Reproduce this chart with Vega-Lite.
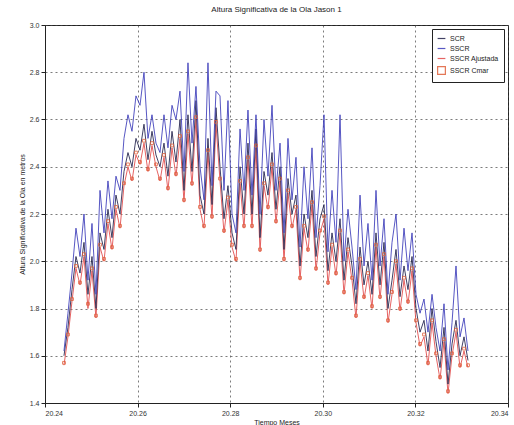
{
  "$schema": "https://vega.github.io/schema/vega-lite/v6.json",
  "autosize": "none",
  "width": 463,
  "height": 378,
  "padding": {"left": 45, "top": 25, "right": 6, "bottom": 22},
  "background": "white",
  "title": {"text": "Altura Significativa de la Ola Jason 1", "fontSize": 8, "font": "Liberation Sans", "fontWeight": "normal", "color": "#222", "offset": 7, "anchor": "middle"},
  "config": {
    "font": "Liberation Sans",
    "view": {"stroke": "#222", "strokeWidth": 1},
    "axis": {"labelFontSize": 7, "titleFontSize": 7, "labelColor": "#333", "titleColor": "#222", "titleFontWeight": "normal", "domainColor": "#222", "tickColor": "#222", "gridColor": "#444", "gridDash": [2, 3], "gridOpacity": 0.7, "tickSize": 4}
  },
  "data": {"values": [
    {"t":20.24410,"SCR":1.60,"SSCR":1.62,"SSCR Ajustada":1.56,"SSCR Cmar":1.57},
    {"t":20.24496,"SCR":1.72,"SSCR":1.78,"SSCR Ajustada":1.68,"SSCR Cmar":1.69},
    {"t":20.24583,"SCR":1.88,"SSCR":1.95,"SSCR Ajustada":1.83,"SSCR Cmar":1.84},
    {"t":20.24669,"SCR":2.02,"SSCR":2.14,"SSCR Ajustada":1.97,"SSCR Cmar":1.98},
    {"t":20.24756,"SCR":1.95,"SSCR":2.02,"SSCR Ajustada":1.90,"SSCR Cmar":1.91},
    {"t":20.24842,"SCR":2.08,"SSCR":2.20,"SSCR Ajustada":2.02,"SSCR Cmar":2.03},
    {"t":20.24928,"SCR":1.86,"SSCR":1.92,"SSCR Ajustada":1.80,"SSCR Cmar":1.82},
    {"t":20.25015,"SCR":2.02,"SSCR":2.16,"SSCR Ajustada":1.96,"SSCR Cmar":1.97},
    {"t":20.25101,"SCR":1.80,"SSCR":1.86,"SSCR Ajustada":1.76,"SSCR Cmar":1.77},
    {"t":20.25188,"SCR":2.12,"SSCR":2.30,"SSCR Ajustada":2.06,"SSCR Cmar":2.07},
    {"t":20.25274,"SCR":2.05,"SSCR":2.12,"SSCR Ajustada":2.00,"SSCR Cmar":2.01},
    {"t":20.25360,"SCR":2.22,"SSCR":2.34,"SSCR Ajustada":2.16,"SSCR Cmar":2.17},
    {"t":20.25447,"SCR":2.10,"SSCR":2.18,"SSCR Ajustada":2.05,"SSCR Cmar":2.06},
    {"t":20.25533,"SCR":2.28,"SSCR":2.36,"SSCR Ajustada":2.22,"SSCR Cmar":2.23},
    {"t":20.25620,"SCR":2.20,"SSCR":2.30,"SSCR Ajustada":2.14,"SSCR Cmar":2.15},
    {"t":20.25706,"SCR":2.38,"SSCR":2.52,"SSCR Ajustada":2.32,"SSCR Cmar":2.33},
    {"t":20.25792,"SCR":2.46,"SSCR":2.62,"SSCR Ajustada":2.40,"SSCR Cmar":2.41},
    {"t":20.25879,"SCR":2.40,"SSCR":2.55,"SSCR Ajustada":2.34,"SSCR Cmar":2.35},
    {"t":20.25965,"SCR":2.52,"SSCR":2.70,"SSCR Ajustada":2.45,"SSCR Cmar":2.46},
    {"t":20.26052,"SCR":2.47,"SSCR":2.66,"SSCR Ajustada":2.41,"SSCR Cmar":2.42},
    {"t":20.26138,"SCR":2.58,"SSCR":2.80,"SSCR Ajustada":2.50,"SSCR Cmar":2.51},
    {"t":20.26224,"SCR":2.43,"SSCR":2.52,"SSCR Ajustada":2.38,"SSCR Cmar":2.39},
    {"t":20.26311,"SCR":2.55,"SSCR":2.62,"SSCR Ajustada":2.49,"SSCR Cmar":2.50},
    {"t":20.26397,"SCR":2.45,"SSCR":2.50,"SSCR Ajustada":2.40,"SSCR Cmar":2.41},
    {"t":20.26484,"SCR":2.40,"SSCR":2.46,"SSCR Ajustada":2.34,"SSCR Cmar":2.35},
    {"t":20.26570,"SCR":2.50,"SSCR":2.62,"SSCR Ajustada":2.44,"SSCR Cmar":2.45},
    {"t":20.26656,"SCR":2.36,"SSCR":2.48,"SSCR Ajustada":2.30,"SSCR Cmar":2.31},
    {"t":20.26743,"SCR":2.55,"SSCR":2.66,"SSCR Ajustada":2.48,"SSCR Cmar":2.49},
    {"t":20.26829,"SCR":2.42,"SSCR":2.60,"SSCR Ajustada":2.36,"SSCR Cmar":2.37},
    {"t":20.26916,"SCR":2.60,"SSCR":2.72,"SSCR Ajustada":2.52,"SSCR Cmar":2.53},
    {"t":20.27002,"SCR":2.30,"SSCR":2.38,"SSCR Ajustada":2.25,"SSCR Cmar":2.26},
    {"t":20.27088,"SCR":2.62,"SSCR":2.84,"SSCR Ajustada":2.54,"SSCR Cmar":2.55},
    {"t":20.27175,"SCR":2.38,"SSCR":2.50,"SSCR Ajustada":2.32,"SSCR Cmar":2.33},
    {"t":20.27261,"SCR":2.68,"SSCR":2.74,"SSCR Ajustada":2.60,"SSCR Cmar":2.61},
    {"t":20.27348,"SCR":2.28,"SSCR":2.40,"SSCR Ajustada":2.22,"SSCR Cmar":2.23},
    {"t":20.27434,"SCR":2.20,"SSCR":2.26,"SSCR Ajustada":2.14,"SSCR Cmar":2.15},
    {"t":20.27520,"SCR":2.52,"SSCR":2.84,"SSCR Ajustada":2.46,"SSCR Cmar":2.47},
    {"t":20.27607,"SCR":2.24,"SSCR":2.32,"SSCR Ajustada":2.18,"SSCR Cmar":2.19},
    {"t":20.27693,"SCR":2.65,"SSCR":2.72,"SSCR Ajustada":2.58,"SSCR Cmar":2.59},
    {"t":20.27780,"SCR":2.40,"SSCR":2.70,"SSCR Ajustada":2.34,"SSCR Cmar":2.35},
    {"t":20.27866,"SCR":2.18,"SSCR":2.30,"SSCR Ajustada":2.12,"SSCR Cmar":2.13},
    {"t":20.27952,"SCR":2.32,"SSCR":2.68,"SSCR Ajustada":2.26,"SSCR Cmar":2.27},
    {"t":20.28039,"SCR":2.12,"SSCR":2.20,"SSCR Ajustada":2.06,"SSCR Cmar":2.07},
    {"t":20.28125,"SCR":2.05,"SSCR":2.12,"SSCR Ajustada":2.00,"SSCR Cmar":2.01},
    {"t":20.28212,"SCR":2.40,"SSCR":2.56,"SSCR Ajustada":2.33,"SSCR Cmar":2.34},
    {"t":20.28298,"SCR":2.20,"SSCR":2.30,"SSCR Ajustada":2.14,"SSCR Cmar":2.15},
    {"t":20.28384,"SCR":2.50,"SSCR":2.64,"SSCR Ajustada":2.43,"SSCR Cmar":2.44},
    {"t":20.28471,"SCR":2.20,"SSCR":2.28,"SSCR Ajustada":2.14,"SSCR Cmar":2.15},
    {"t":20.28557,"SCR":2.56,"SSCR":2.62,"SSCR Ajustada":2.48,"SSCR Cmar":2.49},
    {"t":20.28644,"SCR":2.10,"SSCR":2.20,"SSCR Ajustada":2.04,"SSCR Cmar":2.05},
    {"t":20.28730,"SCR":2.38,"SSCR":2.60,"SSCR Ajustada":2.32,"SSCR Cmar":2.33},
    {"t":20.28816,"SCR":2.28,"SSCR":2.36,"SSCR Ajustada":2.22,"SSCR Cmar":2.23},
    {"t":20.28903,"SCR":2.46,"SSCR":2.66,"SSCR Ajustada":2.40,"SSCR Cmar":2.41},
    {"t":20.28989,"SCR":2.22,"SSCR":2.30,"SSCR Ajustada":2.16,"SSCR Cmar":2.17},
    {"t":20.29076,"SCR":2.40,"SSCR":2.50,"SSCR Ajustada":2.34,"SSCR Cmar":2.35},
    {"t":20.29162,"SCR":2.05,"SSCR":2.12,"SSCR Ajustada":2.00,"SSCR Cmar":2.01},
    {"t":20.29248,"SCR":2.35,"SSCR":2.52,"SSCR Ajustada":2.29,"SSCR Cmar":2.30},
    {"t":20.29335,"SCR":2.20,"SSCR":2.26,"SSCR Ajustada":2.14,"SSCR Cmar":2.15},
    {"t":20.29421,"SCR":2.28,"SSCR":2.44,"SSCR Ajustada":2.22,"SSCR Cmar":2.23},
    {"t":20.29508,"SCR":1.98,"SSCR":2.06,"SSCR Ajustada":1.92,"SSCR Cmar":1.93},
    {"t":20.29594,"SCR":2.20,"SSCR":2.40,"SSCR Ajustada":2.14,"SSCR Cmar":2.15},
    {"t":20.29680,"SCR":2.10,"SSCR":2.18,"SSCR Ajustada":2.04,"SSCR Cmar":2.05},
    {"t":20.29767,"SCR":2.30,"SSCR":2.48,"SSCR Ajustada":2.24,"SSCR Cmar":2.25},
    {"t":20.29853,"SCR":2.02,"SSCR":2.10,"SSCR Ajustada":1.96,"SSCR Cmar":1.97},
    {"t":20.29940,"SCR":2.18,"SSCR":2.32,"SSCR Ajustada":2.12,"SSCR Cmar":2.13},
    {"t":20.30026,"SCR":2.24,"SSCR":2.62,"SSCR Ajustada":2.18,"SSCR Cmar":2.19},
    {"t":20.30112,"SCR":1.96,"SSCR":2.04,"SSCR Ajustada":1.90,"SSCR Cmar":1.91},
    {"t":20.30199,"SCR":2.12,"SSCR":2.30,"SSCR Ajustada":2.06,"SSCR Cmar":2.07},
    {"t":20.30285,"SCR":2.00,"SSCR":2.08,"SSCR Ajustada":1.94,"SSCR Cmar":1.95},
    {"t":20.30372,"SCR":2.18,"SSCR":2.62,"SSCR Ajustada":2.12,"SSCR Cmar":2.13},
    {"t":20.30458,"SCR":1.92,"SSCR":2.00,"SSCR Ajustada":1.86,"SSCR Cmar":1.87},
    {"t":20.30544,"SCR":2.10,"SSCR":2.22,"SSCR Ajustada":2.04,"SSCR Cmar":2.05},
    {"t":20.30631,"SCR":1.98,"SSCR":2.06,"SSCR Ajustada":1.92,"SSCR Cmar":1.93},
    {"t":20.30717,"SCR":1.82,"SSCR":1.88,"SSCR Ajustada":1.76,"SSCR Cmar":1.77},
    {"t":20.30804,"SCR":2.06,"SSCR":2.28,"SSCR Ajustada":2.00,"SSCR Cmar":2.01},
    {"t":20.30890,"SCR":1.90,"SSCR":1.98,"SSCR Ajustada":1.84,"SSCR Cmar":1.85},
    {"t":20.30976,"SCR":2.00,"SSCR":2.16,"SSCR Ajustada":1.94,"SSCR Cmar":1.95},
    {"t":20.31063,"SCR":1.86,"SSCR":1.92,"SSCR Ajustada":1.80,"SSCR Cmar":1.81},
    {"t":20.31149,"SCR":2.12,"SSCR":2.30,"SSCR Ajustada":2.06,"SSCR Cmar":2.07},
    {"t":20.31236,"SCR":1.90,"SSCR":1.98,"SSCR Ajustada":1.84,"SSCR Cmar":1.85},
    {"t":20.31322,"SCR":2.08,"SSCR":2.18,"SSCR Ajustada":2.02,"SSCR Cmar":2.03},
    {"t":20.31408,"SCR":1.80,"SSCR":1.86,"SSCR Ajustada":1.74,"SSCR Cmar":1.75},
    {"t":20.31495,"SCR":1.92,"SSCR":2.08,"SSCR Ajustada":1.86,"SSCR Cmar":1.87},
    {"t":20.31581,"SCR":2.05,"SSCR":2.20,"SSCR Ajustada":1.99,"SSCR Cmar":2.00},
    {"t":20.31668,"SCR":1.85,"SSCR":1.92,"SSCR Ajustada":1.79,"SSCR Cmar":1.80},
    {"t":20.31754,"SCR":1.98,"SSCR":2.14,"SSCR Ajustada":1.92,"SSCR Cmar":1.93},
    {"t":20.31840,"SCR":1.88,"SSCR":1.96,"SSCR Ajustada":1.82,"SSCR Cmar":1.83},
    {"t":20.31927,"SCR":2.02,"SSCR":2.12,"SSCR Ajustada":1.96,"SSCR Cmar":1.97},
    {"t":20.32013,"SCR":1.80,"SSCR":1.86,"SSCR Ajustada":1.74,"SSCR Cmar":1.75},
    {"t":20.32100,"SCR":1.70,"SSCR":1.78,"SSCR Ajustada":1.64,"SSCR Cmar":1.65},
    {"t":20.32186,"SCR":1.75,"SSCR":1.84,"SSCR Ajustada":1.68,"SSCR Cmar":1.69},
    {"t":20.32272,"SCR":1.62,"SSCR":1.70,"SSCR Ajustada":1.56,"SSCR Cmar":1.57},
    {"t":20.32359,"SCR":1.80,"SSCR":1.86,"SSCR Ajustada":1.74,"SSCR Cmar":1.75},
    {"t":20.32445,"SCR":1.66,"SSCR":1.72,"SSCR Ajustada":1.60,"SSCR Cmar":1.61},
    {"t":20.32532,"SCR":1.55,"SSCR":1.62,"SSCR Ajustada":1.50,"SSCR Cmar":1.51},
    {"t":20.32618,"SCR":1.72,"SSCR":1.82,"SSCR Ajustada":1.66,"SSCR Cmar":1.67},
    {"t":20.32704,"SCR":1.48,"SSCR":1.54,"SSCR Ajustada":1.44,"SSCR Cmar":1.45},
    {"t":20.32791,"SCR":1.65,"SSCR":1.74,"SSCR Ajustada":1.60,"SSCR Cmar":1.61},
    {"t":20.32877,"SCR":1.75,"SSCR":1.98,"SSCR Ajustada":1.70,"SSCR Cmar":1.71},
    {"t":20.32964,"SCR":1.60,"SSCR":1.68,"SSCR Ajustada":1.55,"SSCR Cmar":1.56},
    {"t":20.33050,"SCR":1.68,"SSCR":1.76,"SSCR Ajustada":1.62,"SSCR Cmar":1.63},
    {"t":20.33136,"SCR":1.58,"SSCR":1.62,"SSCR Ajustada":1.55,"SSCR Cmar":1.56}
  ]},
  "transform": [
    {"fold": ["SSCR Ajustada", "SCR", "SSCR", "SSCR Cmar"], "as": ["serie", "v"]}
  ],
  "encoding": {
    "x": {"field": "t", "type": "quantitative", "scale": {"domain": [20.24, 20.34], "nice": false, "zero": false},
      "axis": {"values": [20.24, 20.26, 20.28, 20.30, 20.32, 20.34], "format": ".2f", "title": "Tiempo Meses", "titlePadding": 2, "labelPadding": 2}},
    "y": {"field": "v", "type": "quantitative", "scale": {"domain": [1.4, 3], "nice": false, "zero": false},
      "axis": {"values": [1.4, 1.6, 1.8, 2, 2.2, 2.4, 2.6, 2.8, 3], "title": "Altura Significativa de la Ola en metros", "titlePadding": 4, "labelPadding": 2}},
    "color": {"field": "serie", "type": "nominal",
      "scale": {"domain": ["SCR", "SSCR", "SSCR Ajustada", "SSCR Cmar"], "range": ["#20204a", "#3a3ab8", "#e04848", "#e0603a"]},
      "legend": {"title": null, "orient": "top-right", "offset": 4, "strokeColor": "#222", "fillColor": "white", "padding": 5, "labelFontSize": 7, "symbolSize": 60, "symbolStrokeWidth": 1.2, "rowPadding": 2, "labelColor": "#222"}}
  },
  "layer": [
    {"transform": [{"filter": "datum.serie !== 'SSCR Cmar'"}],
     "mark": {"type": "line", "strokeWidth": 1, "opacity": 0.85},
     "encoding": {"detail": {"field": "serie"}}},
    {"transform": [{"filter": "datum.serie === 'SSCR Cmar'"}],
     "mark": {"type": "point", "size": 8, "filled": false, "strokeWidth": 1, "opacity": 0.8},
     "encoding": {"shape": {"field": "serie", "type": "nominal",
       "scale": {"domain": ["SCR", "SSCR", "SSCR Ajustada", "SSCR Cmar"], "range": ["stroke", "stroke", "stroke", "square"]},
       "legend": {"title": null, "orient": "top-right", "offset": 4, "strokeColor": "#222", "fillColor": "white", "padding": 5, "labelFontSize": 7, "symbolSize": 60, "symbolStrokeWidth": 1.2, "rowPadding": 2, "labelColor": "#222"}}}}
  ]
}
